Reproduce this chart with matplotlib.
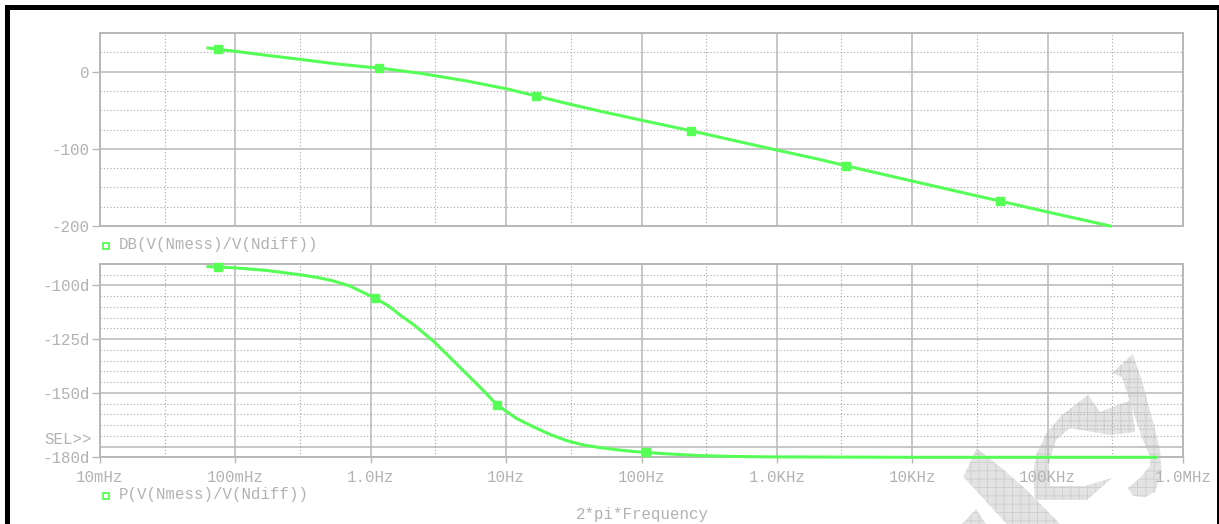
import matplotlib
matplotlib.use("Agg")
import matplotlib.pyplot as plt
from matplotlib.patches import Rectangle, Polygon
from matplotlib.lines import Line2D

# ---- data: x axis is 2*pi*f (rad/s) ----
omega_mag = [0.0628, 0.074, 0.1, 0.17, 0.3, 0.53, 0.93, 1.15, 1.65, 2.32, 2.9,
             5.13, 10, 16.6, 28.2, 49.6, 100, 234, 470, 1000, 2070, 3240,
             1e4, 3.04e4, 4.45e4, 1e5, 2.9e5]
mag_db = [30.6, 28.9, 26.3, 21.1, 15.9, 10.4, 6.0, 4.7, 1.2, -2.2, -5.0,
          -12.2, -22.2, -31.5, -41.4, -51.3, -63.0, -76.8, -88.8, -101.7, -113.8, -122.0,
          -141.8, -161.2, -167.7, -181.9, -200.0]
mag_marks = [0.074, 1.15, 16.6, 234, 3240, 4.45e4]

omega_ph = [0.0628, 0.075, 0.1, 0.17, 0.3, 0.4, 0.53, 0.7, 0.83, 1.08, 1.35, 1.65, 2.07, 2.9,
            3.86, 5.13, 6.81, 8.55, 12.0, 16.0, 21.2, 28.2, 37.4, 49.6, 65.8,
            87, 108, 154, 272, 470, 830, 1e4, 1e5, 6.28e5]
phase_deg = [-91.2, -91.4, -91.8, -93.0, -95.0, -96.2, -97.9, -100.2, -102.5, -105.9, -109.5,
             -113.8, -118.2, -125.9, -133.6, -141.3, -149.0, -155.6, -162.0, -165.9,
             -169.4, -172.3, -174.3, -175.5, -176.5, -177.3, -177.7, -178.4, -179.2,
             -179.6, -179.8, -180.0, -180.0, -180.0]
phase_marks = [0.075, 1.08, 8.55, 108]

x_ticks = [0.01, 0.1, 1, 10, 100, 1e3, 1e4, 1e5, 1e6]
x_labels = ["10mHz", "100mHz", "1.0Hz", "10Hz", "100Hz", "1.0KHz", "10KHz", "100KHz", "1.0MHz"]
x_minor = [0.03, 0.3, 3, 30, 300, 3e3, 3e4, 3e5]

mag_ticks = [-200, -100, 0]
mag_labels = ["-200", "-100", "0"]
mag_minor = [-175, -150, -125, -75, -50, -25, 25]

ph_ticks = [-180, -150, -125, -100]
ph_labels = ["-180d", "-150d", "-125d", "-100d"]
ph_minor = [-170, -165, -160, -155, -145, -140, -135, -130,
            -120, -115, -110, -105, -95]

# ---- style ----
GREEN = "#55ff55"
GRID = "#bdbdbd"
DOT = "#a8a8a8"
SPINE = "#b8b8b8"
TXT = "#b2b2b2"
FS = 11.3
plt.rcParams["font.family"] = ["Liberation Mono", "DejaVu Sans Mono"]
plt.rcParams["hatch.linewidth"] = 0.7

W, H, DPI = 1219, 524, 100
fig = plt.figure(figsize=(W / DPI, H / DPI), dpi=DPI, facecolor="white")


def fx(px):
    return px / W


def fy(py):
    return (H - py) / H


# watermark behind the plots
wm_shapes = [
    [(1132.7, 354), (1111.7, 373.3), (1121.7, 376.7), (1131.7, 406.7), (1141.7, 436.7),
     (1150, 456.7), (1150, 466), (1140, 478), (1128, 488), (1133, 496), (1145, 497),
     (1155, 492), (1161.7, 473), (1160, 450), (1153.3, 423.3), (1141.7, 380)],
    [(1088, 395), (1062, 415), (1046, 434), (1036, 455), (1033, 475), (1035, 500),
     (1087, 500), (1112, 478), (1085, 486), (1050, 486), (1049, 462), (1056, 440),
     (1070, 428), (1110, 435), (1135, 432), (1131, 400), (1100, 412)],
    [(976.7, 448.3), (963.3, 476.7), (1006.7, 524), (1060, 524), (1026.7, 490), (1000, 466.7)],
    [(962, 524), (976, 509), (986, 524)],
]
for pts in wm_shapes:
    fig.add_artist(Polygon([(fx(a), fy(b)) for a, b in pts], closed=True,
                           transform=fig.transFigure, facecolor="#e3e3e3",
                           edgecolor="#d0d0d0", hatch="++", lw=0, zorder=-1))

ax1 = fig.add_axes([fx(100), fy(226), fx(1183) - fx(100), fy(33) - fy(226)])
ax2 = fig.add_axes([fx(100), fy(457.3), fx(1183) - fx(100), fy(264) - fy(457.3)])

for ax in (ax1, ax2):
    ax.set_facecolor("none")
    ax.set_xscale("log")
    ax.set_xlim(0.01, 1e6)
    ax.set_xticks(x_ticks)
    ax.set_xticks(x_minor, minor=True)
    for s in ax.spines.values():
        s.set_color(SPINE)
        s.set_linewidth(1.4)
    ax.grid(which="major", color=GRID, lw=1.2, ls="-")
    ax.grid(which="minor", color=DOT, lw=0.8, ls=(0, (1, 2)))
    ax.tick_params(which="minor", length=0)
    ax.tick_params(axis="y", which="major", length=5.5, width=1, color=SPINE,
                   pad=2, labelcolor=TXT, labelsize=FS)
    ax.set_axisbelow(True)

ax1.set_ylim(-200, 50)
ax1.set_yticks(mag_ticks)
ax1.set_yticklabels(mag_labels)
ax1.set_yticks(mag_minor, minor=True)
ax1.tick_params(axis="x", which="major", length=0, labelbottom=False)

ax2.set_ylim(-180, -90)
ax2.set_yticks(ph_ticks)
ax2.set_yticklabels(ph_labels)
ax2.set_yticks(ph_minor, minor=True)
ax2.axhline(-175, color=GRID, lw=1.2, zorder=0.5)
ax2.set_xticklabels(x_labels)
ax2.tick_params(axis="x", which="major", length=4.5, width=1, color=SPINE,
                pad=5, labelcolor=TXT, labelsize=FS)

ax1.plot(omega_mag, mag_db, color=GREEN, lw=2.2, marker="s", ms=6,
         markevery=[omega_mag.index(w) for w in mag_marks], clip_on=False, zorder=3)
ax2.plot(omega_ph, phase_deg, color=GREEN, lw=2.2, marker="s", ms=6,
         markevery=[omega_ph.index(w) for w in phase_marks], clip_on=False, zorder=3)

# trace names and axis title
txt = dict(color=TXT, fontsize=FS, va="center")
fig.text(fx(92), fy(439.3), "SEL>>", ha="right", **txt)
for yy, name in ((246, "DB(V(Nmess)/V(Ndiff))"), (496, "P(V(Nmess)/V(Ndiff))")):
    fig.add_artist(Line2D([fx(105.7)], [fy(yy)], transform=fig.transFigure, marker="s",
                          ms=4.3, mfc="none", mec=GREEN, mew=1.3, ls="none"))
    fig.text(fx(119), fy(yy - 1), name, ha="left", **txt)
fig.text(fx(642.5), fy(514), "2*pi*Frequency", ha="center", **txt)

# black frame
for (x0, y0, x1, y1) in ((5, 5, 10, 524), (5, 5, 1219, 10), (1217.3, 5, 1219, 524)):
    fig.add_artist(Rectangle((fx(x0), fy(y1)), fx(x1) - fx(x0), fy(y0) - fy(y1),
                             transform=fig.transFigure, facecolor="black",
                             edgecolor="none", zorder=5))

fig.savefig("out.png", dpi=DPI, facecolor="white")
